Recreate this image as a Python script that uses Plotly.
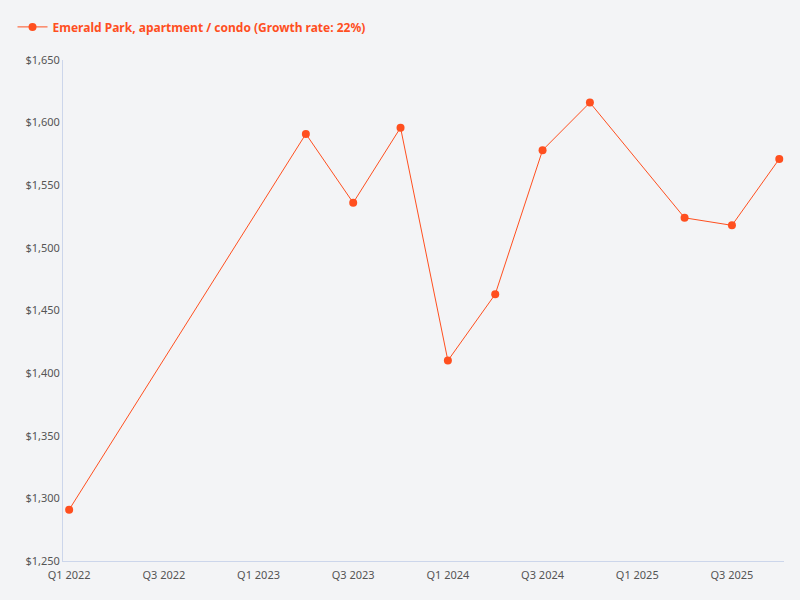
import plotly.graph_objects as go

quarters = ["Q1 2022","Q2 2022","Q3 2022","Q4 2022","Q1 2023","Q2 2023","Q3 2023","Q4 2023",
            "Q1 2024","Q2 2024","Q3 2024","Q4 2024","Q1 2025","Q2 2025","Q3 2025","Q4 2025"]
point_quarters = ["Q1 2022","Q2 2023","Q3 2023","Q4 2023","Q1 2024","Q2 2024","Q3 2024","Q4 2024","Q2 2025","Q3 2025","Q4 2025"]
prices = [1291, 1591, 1536, 1596, 1410, 1463, 1578, 1616, 1524, 1518, 1571]
tick_labels = ["Q1 2022","Q3 2022","Q1 2023","Q3 2023","Q1 2024","Q3 2024","Q1 2025","Q3 2025"]

xi = [quarters.index(q) for q in point_quarters]
color = "#ff4f1f"
bg = "#f3f4f6"

fig = go.Figure(go.Scatter(
    x=xi, y=prices, mode="lines+markers",
    name="Emerald Park, apartment / condo (Growth rate: 22%)",
    line=dict(color=color, width=1), marker=dict(color=color, size=8),
    text=point_quarters, hovertemplate="%{text}: $%{y:,}<extra></extra>"))

fig.update_layout(
    width=800, height=600, paper_bgcolor=bg, plot_bgcolor=bg,
    margin=dict(l=60, r=16, t=50, b=39),
    font=dict(family="Noto Sans, Open Sans, sans-serif", size=11, color="#555"),
    showlegend=True,
    legend=dict(x=-0.07, y=1.095, xanchor="left", yanchor="top", orientation="h",
                font=dict(color=color, size=12, family="Noto Sans, Open Sans, sans-serif", weight="bold"),
                bgcolor="rgba(0,0,0,0)"),
    xaxis=dict(range=[-0.13, 15.1], tickmode="array",
               tickvals=[quarters.index(t) for t in tick_labels], ticktext=tick_labels,
               showgrid=False, zeroline=False, showline=True, linecolor="#ccd6eb",
               ticks="outside", ticklen=4, tickcolor=bg, tickfont=dict(color="#555")),
    yaxis=dict(range=[1250, 1650], dtick=50, tickprefix="$", tickformat=",",
               showgrid=False, zeroline=False, showline=True, linecolor="#ccd6eb",
               ticks="", tickfont=dict(color="#555")),
)
fig.write_html("out.html", config={"displayModeBar": False},
               post_script="document.body.style.margin='0';document.body.style.overflow='hidden';")
